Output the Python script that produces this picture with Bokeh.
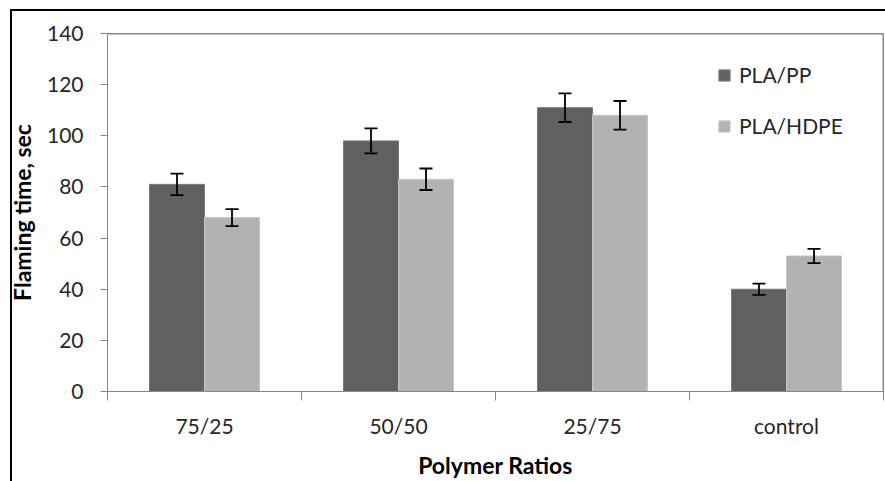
from bokeh.plotting import figure
from bokeh.models import (ColumnDataSource, Range1d, FixedTicker, Whisker, TeeHead,
                          Span, Legend, LegendItem)
from bokeh.embed import file_html
from bokeh.resources import INLINE

categories = ["75/25", "50/50", "25/75", "control"]
pla_pp = [81, 98, 111, 40]
pla_pp_err = [4.2, 4.9, 5.6, 2.2]
pla_hdpe = [68, 83, 108, 53]
pla_hdpe_err = [3.3, 4.2, 5.6, 2.8]
y_ticks = [0, 20, 40, 60, 80, 100, 120, 140]

FONT = "Lato"
TXT = "#262626"
AX = "#868686"

centers = [i + 0.5 for i in range(len(categories))]
off = 0.1418
bw = 0.2835

src_pp = ColumnDataSource(dict(x=[c - off for c in centers], top=pla_pp,
                               up=[v + e for v, e in zip(pla_pp, pla_pp_err)],
                               lo=[v - e for v, e in zip(pla_pp, pla_pp_err)]))
src_hd = ColumnDataSource(dict(x=[c + off for c in centers], top=pla_hdpe,
                               up=[v + e for v, e in zip(pla_hdpe, pla_hdpe_err)],
                               lo=[v - e for v, e in zip(pla_hdpe, pla_hdpe_err)]))

frame_shadow = ("inset 10px 0 0 0 #fff, inset 0 9px 0 0 #fff, "
                "inset 12px 0 0 0 #000, inset 0 11px 0 0 #000")

p = figure(width=885, height=481, output_backend="svg", toolbar_location=None,
           x_range=Range1d(0, len(categories)), y_range=Range1d(0, 140),
           min_border_left=107, min_border_right=2, min_border_top=33, min_border_bottom=90,
           styles={"box-shadow": frame_shadow, "background": "#fff"})
p.xgrid.grid_line_color = None
p.ygrid.grid_line_color = None
p.outline_line_color = None
p.background_fill_color = "white"
p.border_fill_alpha = 0

r_pp = p.vbar(x="x", top="top", width=bw, bottom=0, source=src_pp,
              fill_color="#606060", line_color="#7a7a7a", line_width=1)
r_hd = p.vbar(x="x", top="top", width=bw, bottom=0, source=src_hd,
              fill_color="#b2b2b2", line_color="#c6c6c6", line_width=1)

for src in (src_pp, src_hd):
    w = Whisker(source=src, base="x", upper="up", lower="lo", dimension="height",
                line_color="black", line_width=1.8, level="overlay",
                upper_head=TeeHead(size=13, line_color="black", line_width=1.8),
                lower_head=TeeHead(size=13, line_color="black", line_width=1.8))
    p.add_layout(w)

p.add_layout(Span(location=140, dimension="width", line_color="#111111", line_width=1.5))
p.add_layout(Span(location=len(categories), dimension="height", line_color="#111111", line_width=1.5))

# y axis
p.yaxis.ticker = FixedTicker(ticks=y_ticks)
p.yaxis.axis_line_color = AX
p.yaxis.major_tick_line_color = AX
p.yaxis.major_tick_out = 7
p.yaxis.major_tick_in = 0
p.yaxis.minor_tick_line_color = None
p.yaxis.major_label_text_font = FONT
p.yaxis.major_label_text_font_size = "21px"
p.yaxis.major_label_text_color = TXT
p.yaxis.major_label_standoff = 17
p.yaxis.axis_label = "Flaming time, sec"
p.yaxis.axis_label_text_font = FONT
p.yaxis.axis_label_text_font_style = "bold"
p.yaxis.axis_label_text_font_size = "23px"
p.yaxis.axis_label_text_color = "black"
p.yaxis.axis_label_standoff = 8

# x axis
p.xaxis.ticker = FixedTicker(ticks=centers, minor_ticks=list(range(len(categories) + 1)))
p.xaxis.major_label_overrides = {c: n for c, n in zip(centers, categories)}
p.xaxis.axis_line_color = AX
p.xaxis.major_tick_line_color = None
p.xaxis.major_tick_out = 0
p.xaxis.major_tick_in = 0
p.xaxis.minor_tick_line_color = AX
p.xaxis.minor_tick_out = 9
p.xaxis.minor_tick_in = 0
p.xaxis.major_label_text_font = FONT
p.xaxis.major_label_text_font_size = "21px"
p.xaxis.major_label_text_color = TXT
p.xaxis.major_label_standoff = 12
p.xaxis.axis_label = "Polymer Ratios"
p.xaxis.axis_label_text_font = FONT
p.xaxis.axis_label_text_font_style = "bold"
p.xaxis.axis_label_text_font_size = "23px"
p.xaxis.axis_label_text_color = "black"
p.xaxis.axis_label_standoff = 10

legend = Legend(items=[LegendItem(label="PLA/PP", renderers=[r_pp]),
                       LegendItem(label="PLA/HDPE", renderers=[r_hd])],
                location=(610, 253), orientation="vertical",
                border_line_color=None, background_fill_alpha=0,
                glyph_width=14, glyph_height=14, label_standoff=8,
                spacing=26, padding=0, margin=0,
                label_text_font=FONT, label_text_font_size="21px",
                label_text_color=TXT)
p.add_layout(legend)

open("out.html", "w").write(file_html(p, INLINE))
